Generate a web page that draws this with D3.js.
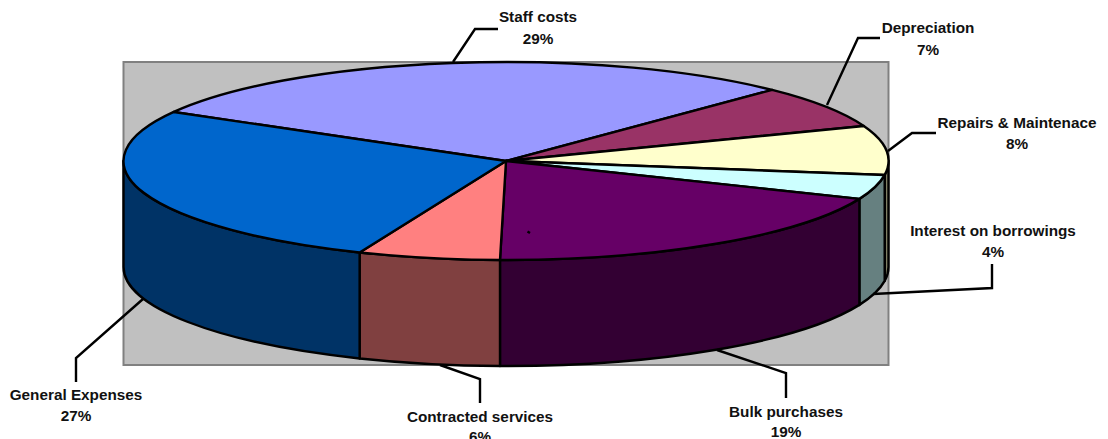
<!DOCTYPE html>
<html>
<head>
<meta charset="utf-8">
<script src="https://cdn.jsdelivr.net/npm/d3@7"></script>
<style>
  html, body { margin: 0; padding: 0; background: #fff; }
  svg { display: block; }
  text { font-family: "Liberation Sans", Arial, sans-serif; font-weight: bold; font-size: 15.3px; fill: #111; }
</style>
</head>
<body>
<svg id="chart" width="1108" height="439"></svg>
<script>
// Expenditure breakdown, clockwise from the upper-left edge of the pie
const categories = ["Staff costs", "Depreciation", "Repairs & Maintenace", "Interest on borrowings",
                    "Bulk purchases", "Contracted services", "General Expenses"];
const shares = [29, 7, 8, 4, 19, 6, 27];
const topColors = ["#9999FF", "#993366", "#FFFFCC", "#CCFFFF", "#660066", "#FF8080", "#0066CC"];
const sideColors = ["#4D4D80", "#4D1A33", "#808066", "#668080", "#330033", "#804040", "#003366"];

// Callout text anchor and leader polyline for each category
const labelAnchors = [[538, 22], [928, 33], [1017, 128], [993, 236], [786, 417], [480, 422], [76, 400]];
const secondLineOffsets = [22, 22, 21, 21, 20, 20, 21];
const leaders = [
  [[453, 62], [475, 29], [498, 29]],
  [[827, 105], [858, 38], [880, 38]],
  [[888, 151], [912, 133], [936, 133]],
  [[873, 294], [992, 288], [992, 264]],
  [[717, 350], [786, 373], [786, 398]],
  [[440, 365], [480, 379], [480, 403]],
  [[143, 299], [76, 358], [76, 382]],
  // short stray stroke on the Bulk purchases face
  [[527.5, 231.5], [530, 233]]
];

const cx = 506, cy = 161, rx = 382.5, ry = 99, depth = 106;
const plotBox = { x: 123.5, y: 62, w: 765, h: 303 };
const toRad = Math.PI / 180;
const rimWidth = 2.4;

const svg = d3.select("#chart");

// Grey plot area behind the pie
svg.append("rect")
  .attr("x", plotBox.x).attr("y", plotBox.y)
  .attr("width", plotBox.w).attr("height", plotBox.h)
  .attr("fill", "#C0C0C0").attr("stroke", "#808080").attr("stroke-width", 2);

const slices = d3.pie().sort(null).value(d => d)
  .startAngle(-60.3 * toRad).endAngle(299.7 * toRad)(shares);

// Angles run clockwise from twelve o'clock, as in d3.pie
const pointAt = (a, dy = 0) => [cx + rx * Math.sin(a), cy - ry * Math.cos(a) + dy];
const ellipseArc = (a0, a1, dy, sweep) => {
  const p = pointAt(a1, dy);
  const large = Math.abs(a1 - a0) > Math.PI ? 1 : 0;
  return `A${rx},${ry} 0 ${large} ${sweep} ${p[0]},${p[1]}`;
};

// Outer wall: only the part of each slice that lies on the front half of the rim
const frontMin = Math.PI / 2, frontMax = 3 * Math.PI / 2;
svg.append("g").selectAll("path")
  .data(slices.filter(s => s.endAngle > frontMin && s.startAngle < frontMax))
  .join("path")
  .attr("d", s => {
    const a0 = Math.max(s.startAngle, frontMin), a1 = Math.min(s.endAngle, frontMax);
    const p0 = pointAt(a0), p1 = pointAt(a1, depth);
    return `M${p0[0]},${p0[1]} L${p0[0]},${p0[1] + depth} ${ellipseArc(a0, a1, depth, 1)} ` +
           `L${p1[0]},${p1[1] - depth} ${ellipseArc(a1, a0, 0, 0)} Z`;
  })
  .attr("fill", s => sideColors[s.index])
  .attr("stroke", "#000").attr("stroke-width", rimWidth).attr("stroke-linejoin", "round");

// Top face
svg.append("g").selectAll("path")
  .data(slices)
  .join("path")
  .attr("d", s => {
    const p0 = pointAt(s.startAngle);
    return `M${cx},${cy} L${p0[0]},${p0[1]} ${ellipseArc(s.startAngle, s.endAngle, 0, 1)} Z`;
  })
  .attr("fill", s => topColors[s.index])
  .attr("stroke", "#000").attr("stroke-width", rimWidth).attr("stroke-linejoin", "round");

// Leader lines
const leaderLine = d3.line();
svg.append("g").selectAll("path")
  .data(leaders)
  .join("path")
  .attr("d", leaderLine)
  .attr("fill", "none").attr("stroke", "#000").attr("stroke-width", rimWidth);

// Callouts: category name with its share underneath
const callouts = svg.append("g").selectAll("text")
  .data(categories)
  .join("text")
  .attr("text-anchor", "middle")
  .attr("x", (d, i) => labelAnchors[i][0])
  .attr("y", (d, i) => labelAnchors[i][1]);
callouts.append("tspan").text(d => d);
callouts.append("tspan")
  .attr("x", (d, i) => labelAnchors[i][0])
  .attr("dy", (d, i) => secondLineOffsets[i])
  .text((d, i) => shares[i] + "%");
</script>
</body>
</html>
